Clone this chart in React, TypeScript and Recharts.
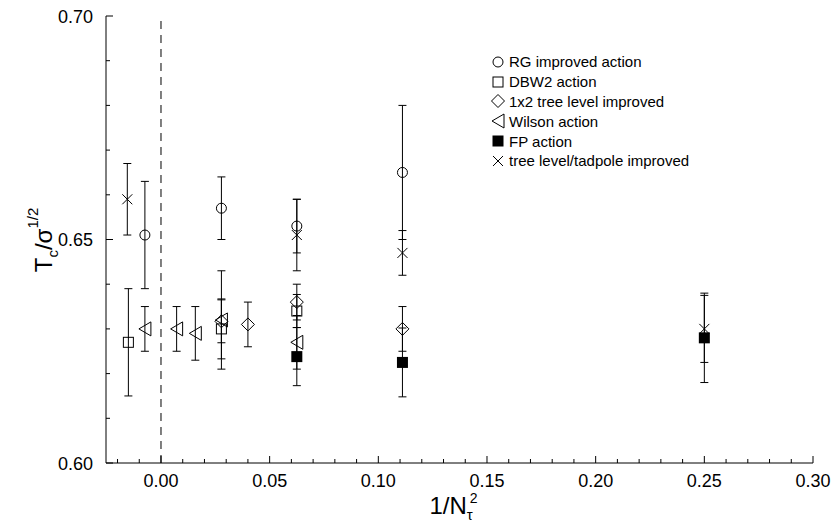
import {
  ErrorBar,
  Legend,
  ReferenceLine,
  Scatter,
  ScatterChart,
  XAxis,
  YAxis,
} from "recharts";

// 1/N_tau^2 positions, T_c/sqrt(sigma) values and their errors, per action
const rgX = [-0.0074, 0.0278, 0.0625, 0.1111];
const rgY = [0.651, 0.657, 0.653, 0.665];
const rgErr = [0.012, 0.007, 0.006, 0.015];

const dbwX = [-0.015, 0.0278, 0.0625];
const dbwY = [0.627, 0.630, 0.634];
const dbwErr = [0.012, 0.0067, 0.0037];

const treeX = [0.0278, 0.04, 0.0625, 0.1111];
const treeY = [0.6317, 0.631, 0.636, 0.630];
const treeErr = [0.0048, 0.005, 0.004, 0.005];

const wilsonX = [-0.0074, 0.0072, 0.0158, 0.0278, 0.0625];
const wilsonY = [0.630, 0.630, 0.629, 0.632, 0.627];
const wilsonErr = [0.005, 0.005, 0.006, 0.011, 0.006];

const fpX = [0.0625, 0.1111, 0.25];
const fpY = [0.6238, 0.6225, 0.628];
const fpErr = [0.0065, 0.0077, 0.010];

const tadX = [-0.0155, 0.0625, 0.1111, 0.25];
const tadY = [0.659, 0.651, 0.647, 0.630];
const tadErr = [0.008, 0.008, 0.005, 0.0075];

const xTicks = [
  -0.02, -0.01, 0, 0.01, 0.02, 0.03, 0.04, 0.05, 0.06, 0.07, 0.08, 0.09, 0.1,
  0.11, 0.12, 0.13, 0.14, 0.15, 0.16, 0.17, 0.18, 0.19, 0.2, 0.21, 0.22, 0.23,
  0.24, 0.25, 0.26, 0.27, 0.28, 0.29, 0.3,
];
const xLabels = ["0.00", "0.05", "0.10", "0.15", "0.20", "0.25", "0.30"];
const yTicks = [0.6, 0.61, 0.62, 0.63, 0.64, 0.65, 0.66, 0.67, 0.68, 0.69, 0.7];
const yLabels = ["0.60", "0.65", "0.70"];

const FONT = "'Liberation Sans', Arial, Helvetica, sans-serif";

const toPoints = (xs: number[], ys: number[], errs: number[]) =>
  xs.map((x, i) => ({ x, y: ys[i], err: errs[i] }));

const isMajor = (v: number) => Math.abs(v * 20 - Math.round(v * 20)) < 1e-6;
const labelOf = (v: number, labels: string[]) =>
  labels.find((l) => Math.abs(parseFloat(l) - v) < 1e-6);

// ---- markers ----
type Mk = { cx?: number; cy?: number };
const CircleMk = ({ cx = 0, cy = 0 }: Mk) => (
  <circle cx={cx} cy={cy} r={5} fill="none" stroke="#000" strokeWidth={1} />
);
const SquareMk = ({ cx = 0, cy = 0 }: Mk) => (
  <rect x={cx - 5} y={cy - 5} width={10} height={10} fill="none" stroke="#000" strokeWidth={1} />
);
const DiamondMk = ({ cx = 0, cy = 0 }: Mk) => (
  <polygon
    points={`${cx},${cy - 6.5} ${cx + 6.5},${cy} ${cx},${cy + 6.5} ${cx - 6.5},${cy}`}
    fill="none"
    stroke="#000"
    strokeWidth={1}
  />
);
const TriMk = ({ cx = 0, cy = 0 }: Mk) => (
  <polygon
    points={`${cx - 6},${cy} ${cx + 6},${cy - 7} ${cx + 6},${cy + 7}`}
    fill="none"
    stroke="#000"
    strokeWidth={1}
  />
);
const FilledMk = ({ cx = 0, cy = 0 }: Mk) => (
  <rect x={cx - 5.5} y={cy - 5.5} width={11} height={11} fill="#000" />
);
const CrossMk = ({ cx = 0, cy = 0 }: Mk) => (
  <g stroke="#000" strokeWidth={1}>
    <line x1={cx - 5} y1={cy - 5} x2={cx + 5} y2={cy + 5} />
    <line x1={cx - 5} y1={cy + 5} x2={cx + 5} y2={cy - 5} />
  </g>
);

const legendItems = [
  { name: "RG improved action", Mk: CircleMk },
  { name: "DBW2 action", Mk: SquareMk },
  { name: "1x2 tree level improved", Mk: DiamondMk },
  { name: "Wilson action", Mk: TriMk },
  { name: "FP action", Mk: FilledMk },
  { name: "tree level/tadpole improved", Mk: CrossMk },
];

const renderLegend = () => (
  <div style={{ fontFamily: FONT, fontSize: 15, color: "#000" }}>
    {legendItems.map(({ name, Mk }) => (
      <div key={name} style={{ display: "flex", alignItems: "center", height: 19.8 }}>
        <svg width={16} height={16} style={{ marginRight: 3 }}>
          <Mk cx={8} cy={8} />
        </svg>
        <span>{name}</span>
      </div>
    ))}
  </div>
);

// ---- inward ticks ----
const BottomTick = (p: any) => {
  const v = p.payload.value;
  const major = isMajor(v);
  return (
    <g>
      <line x1={p.x} y1={p.y} x2={p.x} y2={p.y - (major ? 7 : 4)} stroke="#000" />
      {major && (
        <text x={p.x} y={p.y + 24} textAnchor="middle" fontFamily={FONT} fontSize={18} fill="#000">
          {labelOf(v, xLabels)}
        </text>
      )}
    </g>
  );
};
const TopTick = (p: any) => {
  const major = isMajor(p.payload.value);
  return <line x1={p.x} y1={p.y} x2={p.x} y2={p.y + (major ? 7 : 4)} stroke="#000" />;
};
const LeftTick = (p: any) => {
  const v = p.payload.value;
  const major = isMajor(v);
  return (
    <g>
      <line x1={p.x} y1={p.y} x2={p.x + (major ? 7 : 4)} y2={p.y} stroke="#000" />
      {major && (
        <text x={p.x - 13} y={p.y + 6.5} textAnchor="end" fontFamily={FONT} fontSize={18} fill="#000">
          {labelOf(v, yLabels)}
        </text>
      )}
    </g>
  );
};
const RightTick = (p: any) => {
  const major = isMajor(p.payload.value);
  return <line x1={p.x} y1={p.y} x2={p.x - (major ? 7 : 4)} y2={p.y} stroke="#000" />;
};

const XTitle = (p: any) => {
  const vb = p.viewBox || { x: 106, width: 707 };
  const x0 = vb.x + vb.width / 2 - 30;
  return (
    <text x={x0} y={514} fontFamily={FONT} fontSize={24} fill="#000">
      1/N
      <tspan fontSize={15} dy={6}>τ</tspan>
      <tspan fontSize={14} dx={-3} dy={-17}>2</tspan>
    </text>
  );
};

const YTitle = () => (
  <text
    transform="translate(52,240) rotate(-90)"
    textAnchor="middle"
    fontFamily={FONT}
    fontSize={24}
    fill="#000"
  >
    T
    <tspan fontSize={15} dy={6}>c</tspan>
    <tspan dy={-6}>/σ</tspan>
    <tspan fontSize={15} dy={-14}>1/2</tspan>
  </text>
);

const axisLine = { stroke: "#000", strokeWidth: 1 };
const bar = { stroke: "#000", strokeWidth: 1 };

export default function App() {
  return (
    <div style={{ position: "absolute", left: 0, top: 0, background: "#fff" }}>
      <ScatterChart width={833} height={523} margin={{ top: 16, right: 20, bottom: 20, left: 46 }}>
        <XAxis
          xAxisId="b"
          type="number"
          dataKey="x"
          domain={[-0.0253, 0.3]}
          ticks={xTicks}
          interval={0}
          tickSize={0}
          tickMargin={0}
          tickLine={false}
          axisLine={axisLine}
          tick={BottomTick}
          height={40}
          allowDataOverflow
          label={{ content: XTitle }}
        />
        <XAxis
          xAxisId="t"
          orientation="top"
          type="number"
          domain={[-0.0253, 0.3]}
          ticks={xTicks}
          interval={0}
          tickSize={0}
          tickMargin={0}
          tickLine={false}
          axisLine={axisLine}
          tick={TopTick}
          height={0}
          allowDataOverflow
        />
        <YAxis
          yAxisId="l"
          type="number"
          dataKey="y"
          domain={[0.6, 0.7]}
          ticks={yTicks}
          interval={0}
          tickSize={0}
          tickMargin={0}
          tickLine={false}
          axisLine={axisLine}
          tick={LeftTick}
          width={60}
          allowDataOverflow
          label={{ content: YTitle }}
        />
        <YAxis
          yAxisId="r"
          orientation="right"
          type="number"
          domain={[0.6, 0.7]}
          ticks={yTicks}
          interval={0}
          tickSize={0}
          tickMargin={0}
          tickLine={false}
          axisLine={axisLine}
          tick={RightTick}
          width={0}
          allowDataOverflow
        />
        <ReferenceLine xAxisId="b" yAxisId="l" x={0} stroke="#000" strokeDasharray="8 6" />
        <Scatter xAxisId="b" yAxisId="l" data={toPoints(rgX, rgY, rgErr)} shape={CircleMk} isAnimationActive={false}>
          <ErrorBar dataKey="err" direction="y" width={4} {...bar} />
        </Scatter>
        <Scatter xAxisId="b" yAxisId="l" data={toPoints(dbwX, dbwY, dbwErr)} shape={SquareMk} isAnimationActive={false}>
          <ErrorBar dataKey="err" direction="y" width={4} {...bar} />
        </Scatter>
        <Scatter xAxisId="b" yAxisId="l" data={toPoints(treeX, treeY, treeErr)} shape={DiamondMk} isAnimationActive={false}>
          <ErrorBar dataKey="err" direction="y" width={4} {...bar} />
        </Scatter>
        <Scatter xAxisId="b" yAxisId="l" data={toPoints(wilsonX, wilsonY, wilsonErr)} shape={TriMk} isAnimationActive={false}>
          <ErrorBar dataKey="err" direction="y" width={4} {...bar} />
        </Scatter>
        <Scatter xAxisId="b" yAxisId="l" data={toPoints(fpX, fpY, fpErr)} shape={FilledMk} isAnimationActive={false}>
          <ErrorBar dataKey="err" direction="y" width={4} {...bar} />
        </Scatter>
        <Scatter xAxisId="b" yAxisId="l" data={toPoints(tadX, tadY, tadErr)} shape={CrossMk} isAnimationActive={false}>
          <ErrorBar dataKey="err" direction="y" width={4} {...bar} />
        </Scatter>
        <Legend
          layout="vertical"
          align="center"
          verticalAlign="middle"
          content={renderLegend}
          wrapperStyle={{ left: 490, top: 52, width: 300 }}
        />
      </ScatterChart>
    </div>
  );
}
